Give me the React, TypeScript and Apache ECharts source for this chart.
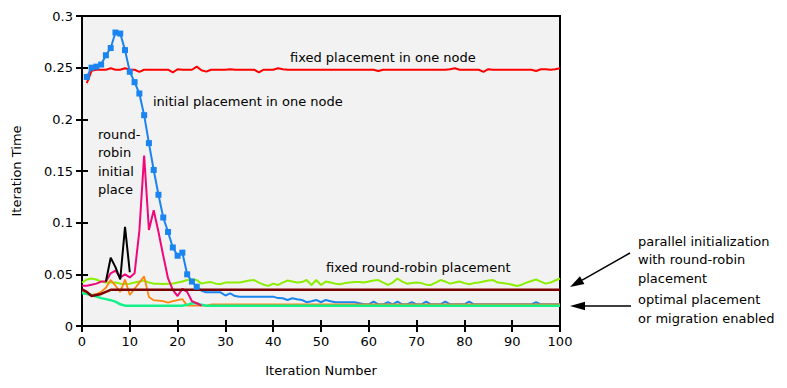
import React, { useEffect, useRef } from "react";
import * as echarts from "echarts";

// x = iteration number (array index), y = iteration time
const fixedPlacementOneNode: (number | null)[] = [
  null, 0.235, 0.247, 0.248, 0.248, 0.248, 0.2495, 0.248, 0.248, 0.2495,
  0.248, 0.248, 0.246, 0.248, 0.248, 0.248, 0.248, 0.248, 0.248, 0.2455,
  0.2485, 0.248, 0.248, 0.248, 0.251, 0.2475, 0.2462, 0.248, 0.248, 0.248,
  0.248, 0.2485, 0.248, 0.248, 0.248, 0.248, 0.248, 0.2455, 0.248, 0.248,
  0.248, 0.2495, 0.2485, 0.248, 0.248, 0.248, 0.248, 0.248, 0.248, 0.248,
  0.248, 0.248, 0.248, 0.248, 0.248, 0.248, 0.248, 0.248, 0.248, 0.248,
  0.248, 0.248, 0.2468, 0.248, 0.248, 0.248, 0.248, 0.248, 0.248, 0.248,
  0.248, 0.248, 0.248, 0.248, 0.248, 0.248, 0.248, 0.2485, 0.2495, 0.248,
  0.248, 0.248, 0.248, 0.248, 0.246, 0.2485, 0.248, 0.248, 0.248, 0.248,
  0.248, 0.248, 0.248, 0.248, 0.248, 0.2468, 0.2485, 0.2485, 0.248, 0.2485,
  0.2495,
];

const initialPlacementOneNode: (number | null)[] = [
  null, 0.241, 0.25, 0.251, 0.253, 0.262, 0.269, 0.284, 0.283, 0.267,
  0.246, 0.236, 0.225, 0.204, 0.177, 0.151, 0.127, 0.105, 0.091, 0.076,
  0.068, 0.071, 0.05, 0.043, 0.038, 0.034, 0.0326, 0.0326, 0.0326, 0.0326,
  0.0295, 0.0316, 0.029, 0.0284, 0.0284, 0.0284, 0.0284, 0.0284, 0.0284, 0.0284,
  0.0284, 0.027, 0.0268, 0.0252, 0.0268, 0.0258, 0.0252, 0.023, 0.024, 0.0252,
  0.023, 0.0252, 0.024, 0.023, 0.023, 0.023, 0.023, 0.023, 0.022, 0.021,
  0.021, 0.0236, 0.021, 0.021, 0.023, 0.021, 0.0236, 0.021, 0.021, 0.023,
  0.021, 0.021, 0.0236, 0.021, 0.021, 0.021, 0.0236, 0.021, 0.021, 0.021,
  0.021, 0.0236, 0.021, 0.021, 0.021, 0.021, 0.021, 0.021, 0.021, 0.021,
  0.021, 0.021, 0.021, 0.021, 0.021, 0.023, 0.021, 0.021, 0.021, 0.021,
  0.021,
];

const fixedRoundRobin: (number | null)[] = [
  0.042, 0.045, 0.046, 0.045, 0.043, 0.042, 0.042, 0.042, 0.041, 0.0407,
  0.041, 0.042, 0.043, 0.044, 0.042, 0.041, 0.041, 0.0407, 0.041, 0.041,
  0.042, 0.043, 0.0445, 0.045, 0.0445, 0.041, 0.042, 0.0425, 0.041, 0.0407,
  0.042, 0.042, 0.042, 0.042, 0.043, 0.044, 0.0445, 0.042, 0.04, 0.0388,
  0.041, 0.0397, 0.042, 0.044, 0.043, 0.042, 0.0425, 0.0445, 0.0397, 0.0445,
  0.0397, 0.043, 0.042, 0.041, 0.0405, 0.0415, 0.042, 0.0425, 0.0425, 0.042,
  0.043, 0.044, 0.0445, 0.042, 0.0397, 0.042, 0.046, 0.043, 0.041, 0.0415,
  0.042, 0.0415, 0.04, 0.0397, 0.042, 0.0445, 0.043, 0.041, 0.042, 0.043,
  0.0415, 0.0405, 0.0415, 0.042, 0.043, 0.044, 0.0445, 0.042, 0.0415, 0.041,
  0.04, 0.0387, 0.04, 0.042, 0.0435, 0.045, 0.043, 0.041, 0.042, 0.044,
  0.046,
];

const parallelInitRoundRobin: (number | null)[] = [
  0.0355, 0.033, 0.029, 0.03, 0.031, 0.033, 0.035, 0.035, 0.035, 0.035,
  0.035, 0.035, 0.035, 0.035, 0.035, 0.035, 0.035, 0.035, 0.035, 0.035,
  0.035, 0.035, 0.035, 0.035, 0.035, 0.035, 0.035, 0.035, 0.035, 0.035,
  0.035, 0.035, 0.035, 0.035, 0.035, 0.035, 0.035, 0.035, 0.035, 0.035,
  0.035, 0.035, 0.035, 0.035, 0.035, 0.035, 0.035, 0.035, 0.035, 0.035,
  0.035, 0.035, 0.035, 0.035, 0.035, 0.035, 0.035, 0.035, 0.035, 0.035,
  0.035, 0.035, 0.035, 0.035, 0.035, 0.035, 0.035, 0.035, 0.035, 0.035,
  0.035, 0.035, 0.035, 0.035, 0.035, 0.035, 0.035, 0.035, 0.035, 0.035,
  0.035, 0.035, 0.035, 0.035, 0.035, 0.035, 0.035, 0.035, 0.035, 0.035,
  0.035, 0.035, 0.035, 0.035, 0.035, 0.035, 0.035, 0.035, 0.035, 0.035,
  0.035,
];

const migrationOrange: (number | null)[] = [
  0.033, 0.031, 0.03, 0.031, 0.033, 0.037, 0.0445, 0.039, 0.033, 0.045,
  0.03, 0.036, 0.042, 0.048, 0.028, 0.025, 0.0245, 0.024, 0.0226, 0.024,
  0.025, 0.026, 0.0197, 0.0197, 0.0197, 0.0197, 0.0197, 0.0208, 0.0208, 0.0208,
  0.0208, 0.0208, 0.0208, 0.0208, 0.0208, 0.0208, 0.0208, 0.0208, 0.0208, 0.0208,
  0.0208, 0.0208, 0.0208, 0.0208, 0.0208, 0.0208, 0.0208, 0.0208, 0.0208, 0.0208,
  0.0208, 0.0208, 0.0208, 0.0208, 0.0208, 0.0208, 0.0208, 0.0208, 0.0208, 0.0208,
  0.0208, 0.0208, 0.0208, 0.0208, 0.0208, 0.0208, 0.0208, 0.0208, 0.0208, 0.0208,
  0.0208, 0.0208, 0.0208, 0.0208, 0.0208, 0.0208, 0.0208, 0.0208, 0.0208, 0.0208,
  0.0208, 0.0208, 0.0208, 0.0208, 0.0208, 0.0208, 0.0208, 0.0208, 0.0208, 0.0208,
  0.0208, 0.0208, 0.0208, 0.0208, 0.0208, 0.0208, 0.0208, 0.0208, 0.0208, 0.0208,
  0.0208,
];

const optimalPlacement: (number | null)[] = [
  0.032, 0.031, 0.03, 0.0285, 0.027, 0.026, 0.025, 0.0236, 0.021, 0.0197,
  0.0197, 0.0197, 0.0197, 0.0197, 0.0197, 0.0197, 0.0197, 0.0197, 0.0197, 0.0197,
  0.0197, 0.0197, 0.0205, 0.022, 0.022, 0.0205, 0.0197, 0.0196, 0.0196, 0.0196,
  0.0196, 0.0196, 0.0196, 0.0196, 0.0196, 0.0196, 0.0196, 0.0196, 0.0196, 0.0196,
  0.0196, 0.0196, 0.0196, 0.0196, 0.0196, 0.0196, 0.0196, 0.0196, 0.0196, 0.0196,
  0.0196, 0.0196, 0.0196, 0.0196, 0.0196, 0.0196, 0.0196, 0.0196, 0.0196, 0.0196,
  0.0196, 0.0196, 0.0196, 0.0196, 0.0196, 0.0196, 0.0196, 0.0196, 0.0196, 0.0196,
  0.0196, 0.0196, 0.0196, 0.0196, 0.0196, 0.0196, 0.0196, 0.0196, 0.0196, 0.0196,
  0.0196, 0.0196, 0.0196, 0.0196, 0.0196, 0.0196, 0.0196, 0.0196, 0.0196, 0.0196,
  0.0196, 0.0196, 0.0196, 0.0196, 0.0196, 0.0196, 0.0196, 0.0196, 0.0196, 0.0196,
  0.0196,
];

const roundRobinInitial: (number | null)[] = [
  0.039, 0.039, 0.04, 0.041, 0.043, 0.043, 0.051, 0.0535, 0.047, 0.05,
  0.047, 0.051, 0.092, 0.165, 0.093, 0.112, 0.091, 0.068, 0.046, 0.035,
  0.029, 0.036, 0.033, 0.024, 0.022, 0.0197,
];

const blackSeries: (number | null)[] = [
  null, null, null, null, null, 0.043, 0.066, 0.057, 0.045, 0.096, 0.052,
];

const xTickValues = [0, 10, 20, 30, 40, 50, 60, 70, 80, 90, 100];
const yTickValues = [0, 0.05, 0.1, 0.15, 0.2, 0.25, 0.3];

const FONT = '"DejaVu Sans", sans-serif';

function toPairs(arr: (number | null)[]) {
  return arr
    .map((v, i) => [i, v] as [number, number | null])
    .filter((p) => p[1] !== null);
}

export default function App() {
  const ref = useRef<HTMLDivElement>(null);

  useEffect(() => {
    const chart = echarts.init(ref.current!, null, { renderer: "svg" });

    const tick = { inside: true, length: 6, lineStyle: { color: "#000", width: 2 } };
    const label = { color: "#000", fontSize: 13, fontFamily: FONT };

    const lineSeries = (name: string, arr: (number | null)[], color: string, width: number) => ({
      name,
      type: "line",
      data: toPairs(arr),
      showSymbol: false,
      lineStyle: { color, width },
      itemStyle: { color },
      silent: true,
    });

    const blueData = toPairs(initialPlacementOneNode).map((p, idx) => ({
      value: p,
      symbol: idx <= 23 ? "rect" : "none",
    }));

    // arrow 1 geometry
    const t1 = [570, 287];
    const s1 = [630, 253];
    const dx = t1[0] - s1[0];
    const dy = t1[1] - s1[1];
    const len = Math.sqrt(dx * dx + dy * dy);
    const ux = dx / len;
    const uy = dy / len;
    const hl = 14;
    const hw = 4.5;
    const bx = t1[0] - ux * hl;
    const by = t1[1] - uy * hl;

    chart.setOption({
      animation: false,
      backgroundColor: "#fff",
      grid: {
        left: 82,
        right: 227,
        top: 16,
        bottom: 62,
        show: true,
        backgroundColor: "#f2f2f2",
        borderColor: "#000",
        borderWidth: 2,
      },
      xAxis: [
        {
          type: "value",
          min: xTickValues[0],
          max: xTickValues[xTickValues.length - 1],
          interval: 10,
          position: "bottom",
          axisLine: { show: false },
          axisTick: tick,
          axisLabel: { ...label, margin: 9 },
          splitLine: { show: false },
          name: "Iteration Number",
          nameLocation: "middle",
          nameGap: 38,
          nameTextStyle: label,
        },
        {
          type: "value",
          min: 0,
          max: 100,
          interval: 10,
          position: "top",
          axisLine: { show: false },
          axisTick: tick,
          axisLabel: { show: false },
          splitLine: { show: false },
        },
      ],
      yAxis: [
        {
          type: "value",
          min: yTickValues[0],
          max: yTickValues[yTickValues.length - 1],
          interval: 0.05,
          position: "left",
          axisLine: { show: false },
          axisTick: tick,
          axisLabel: { ...label, margin: 9 },
          splitLine: { show: false },
          name: "Iteration Time",
          nameLocation: "middle",
          nameGap: 59,
          nameTextStyle: label,
        },
        {
          type: "value",
          min: 0,
          max: 0.3,
          interval: 0.05,
          position: "right",
          axisLine: { show: false },
          axisTick: tick,
          axisLabel: { show: false },
          splitLine: { show: false },
        },
      ],
      series: [
        lineSeries("fixed placement in one node", fixedPlacementOneNode, "#ff0000", 2),
        lineSeries("fixed round-robin placement", fixedRoundRobin, "#8cee00", 2),
        {
          name: "initial placement in one node",
          type: "line",
          data: blueData,
          showSymbol: true,
          showAllSymbol: true,
          symbolSize: 6,
          lineStyle: { color: "#1a84f0", width: 2 },
          itemStyle: { color: "#1a84f0" },
          silent: true,
        },
        lineSeries("migration", migrationOrange, "#ff8410", 1.8),
        lineSeries("optimal placement or migration enabled", optimalPlacement, "#14f08a", 2.5),
        lineSeries("round-robin initial place", roundRobinInitial, "#f0087a", 2),
        lineSeries("black", blackSeries, "#000000", 2),
        lineSeries("parallel initialization with round-robin placement", parallelInitRoundRobin, "#7a0000", 2.5),
      ],
      graphic: [
        {
          type: "text",
          x: 290,
          y: 57,
          style: { text: "fixed placement in one node", fill: "#000", fontSize: 13, fontFamily: FONT, verticalAlign: "middle" },
        },
        {
          type: "text",
          x: 153,
          y: 101,
          style: { text: "initial placement in one node", fill: "#000", fontSize: 13, fontFamily: FONT, verticalAlign: "middle" },
        },
        {
          type: "text",
          x: 98,
          y: 134 - 9.25,
          style: { text: "round-\nrobin\ninitial\nplace", fill: "#000", fontSize: 13, fontFamily: FONT, verticalAlign: "top", lineHeight: 18.5 },
        },
        {
          type: "text",
          x: 326,
          y: 267,
          style: { text: "fixed round-robin placement", fill: "#000", fontSize: 13, fontFamily: FONT, verticalAlign: "middle" },
        },
        {
          type: "text",
          x: 638,
          y: 241 - 9.25,
          style: { text: "parallel initialization\nwith round-robin\nplacement", fill: "#000", fontSize: 13, fontFamily: FONT, verticalAlign: "top", lineHeight: 18.5 },
        },
        {
          type: "text",
          x: 638,
          y: 299 - 9.5,
          style: { text: "optimal placement\nor migration enabled", fill: "#000", fontSize: 13, fontFamily: FONT, verticalAlign: "top", lineHeight: 19 },
        },
        {
          type: "line",
          shape: { x1: s1[0], y1: s1[1], x2: bx, y2: by },
          style: { stroke: "#000", lineWidth: 1.5 },
        },
        {
          type: "polygon",
          shape: {
            points: [
              [t1[0], t1[1]],
              [bx - uy * hw, by + ux * hw],
              [bx + uy * hw, by - ux * hw],
            ],
          },
          style: { fill: "#000" },
        },
        {
          type: "line",
          shape: { x1: 631, y1: 306, x2: 584, y2: 306 },
          style: { stroke: "#000", lineWidth: 1.5 },
        },
        {
          type: "polygon",
          shape: { points: [[570, 306], [585, 301.8], [585, 310.2]] },
          style: { fill: "#000" },
        },
      ],
    });

    return () => chart.dispose();
  }, []);

  return (
    <div
      ref={ref}
      style={{ position: "absolute", left: 0, top: 0, width: 787, height: 388 }}
    />
  );
}
